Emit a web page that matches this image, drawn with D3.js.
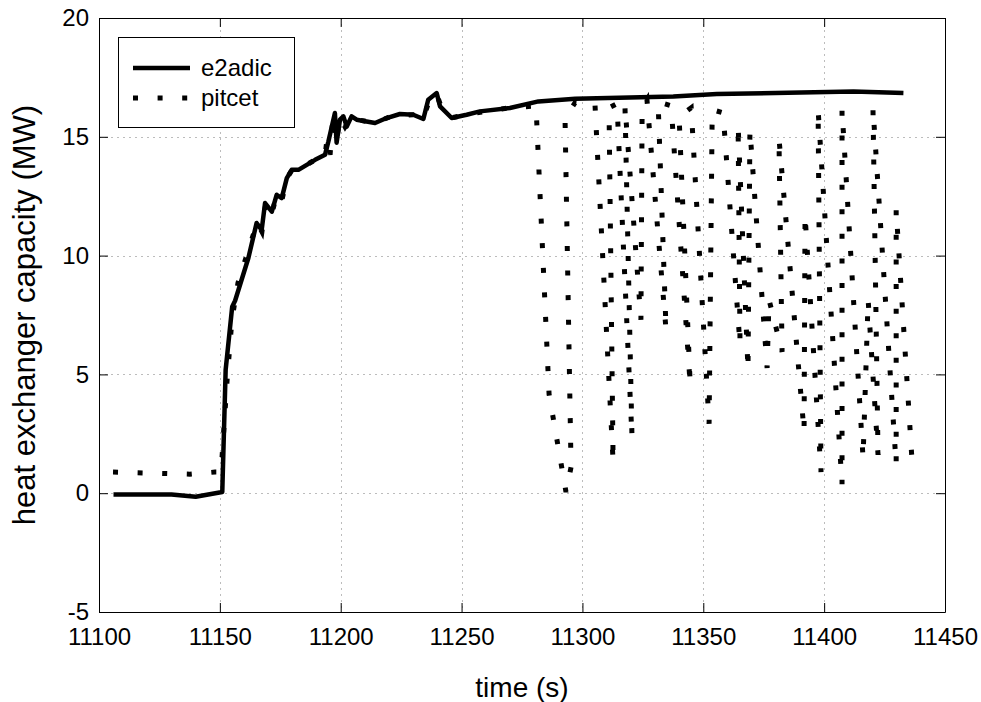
<!DOCTYPE html>
<html>
<head>
<meta charset="utf-8">
<script src="https://cdn.jsdelivr.net/npm/d3@7"></script>
<style>
  body { margin: 0; background: #fff; }
  text { font-family: "Liberation Sans", Arial, Helvetica, sans-serif; fill: #000; }
</style>
</head>
<body>
<div id="chart"></div>
<script>
// e2adic (solid line)
var e2adicTime = [11106, 11120, 11130, 11140, 11151, 11152.4, 11155.1, 11156.3, 11161.8, 11165.2,
  11167.3, 11168.7, 11171.5, 11173.5, 11175.6, 11177.7, 11179.7, 11182.5, 11189.4, 11193.5,
  11194.9, 11197.6, 11198.3, 11199.7, 11201.1, 11202.5, 11204.5, 11206.6, 11214.2, 11219.0,
  11224.5, 11230.0, 11234.2, 11236.2, 11239.7, 11241.1, 11245.9, 11252.1, 11257.6, 11270,
  11281.8, 11297, 11337.6, 11355.6, 11412.1, 11432.8];
var e2adicValue = [-0.05, -0.05, -0.05, -0.15, 0.05, 5.2, 7.85, 8.1, 9.9, 11.37,
  11.08, 12.21, 11.85, 12.56, 12.42, 13.26, 13.61, 13.61, 14.03, 14.24,
  14.8, 16.0, 14.75, 15.72, 15.86, 15.43, 15.86, 15.72, 15.58, 15.79,
  15.96, 15.93, 15.75, 16.56, 16.84, 16.28, 15.79, 15.93, 16.07, 16.21,
  16.49, 16.6, 16.7, 16.8, 16.91, 16.84];

// pitcet (dotted line)
var pitcetTime = [11105.8, 11137.6, 11148.0, 11150.5, 11153.0, 11155.0, 11157.5, 11162.5, 11165.4, 11167.4,
  11169.1, 11171.6, 11173.6, 11175.7, 11177.8, 11179.9, 11182.3, 11189.4, 11193.5, 11194.3,
  11195.6, 11196.8, 11198.1, 11199.7, 11201.8, 11204.7, 11206.7, 11214.2, 11220.4, 11229.9,
  11234.1, 11236.9, 11239.8, 11241.5, 11246.0, 11253.5, 11270.0, 11280.8, 11286.2, 11293.2,
  11295.3, 11292.8, 11296.9, 11305.2, 11312.7, 11311.0, 11314.3, 11320.5, 11317.6, 11324.2,
  11324.7, 11326.7, 11334.6, 11331.3, 11336.7, 11344.6, 11340.0, 11345.0, 11352.4, 11353.7,
  11358.2, 11365.2, 11364.4, 11368.5, 11369.3, 11376.4, 11377.2, 11382.6, 11381.3, 11391.7,
  11392.1, 11398.7, 11397.5, 11407.4, 11407.4, 11416.1, 11418.2, 11422.3, 11420.2, 11429.8,
  11429.8, 11436.4];
var pitcetValue = [0.89, 0.80, 0.89, 0.89, 4.77, 7.30, 8.85, 10.45, 11.38, 11.0,
  12.26, 11.80, 12.60, 12.35, 13.27, 13.61, 13.61, 14.03, 14.20, 14.87,
  14.24, 15.84, 14.75, 15.80, 15.42, 15.88, 15.72, 15.59, 15.84, 15.93,
  15.76, 16.6, 16.77, 16.27, 15.8, 15.97, 16.22, 16.30, 4.17, 0.05,
  1.10, 15.80, 16.43, 16.35, 1.31, 16.22, 16.39, 2.36, 16.31, 7.30,
  16.22, 16.56, 6.87, 16.47, 16.31, 4.55, 15.84, 16.22, 2.92, 16.14,
  16.01, 6.24, 15.5, 5.19, 15.29, 5.27, 8.14, 5.95, 14.96, 2.58,
  11.71, 0.89, 16.14, 0.38, 16.14, 1.48, 8.14, 1.61, 16.22, 1.19,
  11.93, 1.31];

var xTicks = [11100, 11150, 11200, 11250, 11300, 11350, 11400, 11450];
var yTicks = [-5, 0, 5, 10, 15, 20];
var seriesNames = ["e2adic", "pitcet"];

var width = 981, height = 702;
var plotLeft = 99, plotRight = 945, plotTop = 18, plotBottom = 612;
var dotDash = "5,19.6";

var svg = d3.select("#chart").append("svg")
  .attr("width", width)
  .attr("height", height);

var x = d3.scaleLinear().domain([11100, 11450]).range([plotLeft, plotRight]);
var y = d3.scaleLinear().domain([-5, 20]).range([plotBottom, plotTop]);

// grid
svg.append("g").selectAll("line")
  .data(xTicks.slice(1, -1))
  .enter().append("line")
  .attr("x1", d => Math.round(x(d)) + 0.5).attr("x2", d => Math.round(x(d)) + 0.5)
  .attr("y1", plotTop).attr("y2", plotBottom)
  .style("stroke", "#bcbcbc").style("stroke-dasharray", "2,4");
svg.append("g").selectAll("line")
  .data(yTicks.slice(1, -1))
  .enter().append("line")
  .attr("y1", d => Math.round(y(d)) + 0.5).attr("y2", d => Math.round(y(d)) + 0.5)
  .attr("x1", plotLeft).attr("x2", plotRight)
  .style("stroke", "#bcbcbc").style("stroke-dasharray", "2,4");

// axes, ticks pointing inwards on all four sides
svg.append("g")
  .attr("transform", "translate(0," + plotBottom + ")")
  .call(d3.axisBottom(x).tickValues(xTicks).tickFormat(d3.format("d")).tickSizeInner(-9).tickSizeOuter(0).tickPadding(16));
svg.append("g")
  .attr("transform", "translate(" + plotLeft + ",0)")
  .call(d3.axisLeft(y).tickValues(yTicks).tickFormat(d => d < 0 ? "-" + Math.abs(d) : d).tickSizeInner(-9).tickSizeOuter(0).tickPadding(10));
svg.append("g")
  .attr("transform", "translate(0," + plotTop + ")")
  .call(d3.axisTop(x).tickValues(xTicks).tickFormat("").tickSizeInner(-9).tickSizeOuter(0));
svg.append("g")
  .attr("transform", "translate(" + plotRight + ",0)")
  .call(d3.axisRight(y).tickValues(yTicks).tickFormat("").tickSizeInner(-9).tickSizeOuter(0));

svg.selectAll(".domain").style("stroke", "#000");
svg.selectAll(".tick line").style("stroke", "#000");
svg.selectAll(".tick text")
  .style("font-size", "24px")
  .style("font-family", "'Liberation Sans', Arial, Helvetica, sans-serif");

// data lines
var e2adicData = e2adicTime.map((t, i) => [t, e2adicValue[i]]);
var pitcetData = pitcetTime.map((t, i) => [t, pitcetValue[i]]);
var line = d3.line().x(d => x(d[0])).y(d => y(d[1]));

svg.append("path")
  .datum(pitcetData)
  .attr("d", line)
  .style("fill", "none")
  .style("stroke", "#000")
  .style("stroke-width", 5)
  .style("stroke-dasharray", dotDash);

svg.append("path")
  .datum(e2adicData)
  .attr("d", line)
  .style("fill", "none")
  .style("stroke", "#000")
  .style("stroke-width", 4.5)
  .style("stroke-linejoin", "round");

// axis labels
svg.append("text")
  .attr("x", (plotLeft + plotRight) / 2)
  .attr("y", 697)
  .attr("text-anchor", "middle")
  .style("font-size", "28px")
  .text("time (s)");
svg.append("text")
  .attr("transform", "translate(35," + (plotTop + plotBottom) / 2 + ") rotate(-90)")
  .attr("text-anchor", "middle")
  .style("font-size", "31px")
  .text("heat exchanger capacity (MW)");

// legend
var legend = svg.append("g");
legend.append("rect")
  .attr("x", 118.5).attr("y", 37.5)
  .attr("width", 176).attr("height", 90)
  .style("fill", "#fff").style("stroke", "#000");
legend.append("line")
  .attr("x1", 133).attr("x2", 190).attr("y1", 68).attr("y2", 68)
  .style("stroke", "#000").style("stroke-width", 4.5);
legend.append("line")
  .attr("x1", 133).attr("x2", 190).attr("y1", 98).attr("y2", 98)
  .style("stroke", "#000").style("stroke-width", 5).style("stroke-dasharray", dotDash);
legend.selectAll("text")
  .data(seriesNames)
  .enter().append("text")
  .attr("x", 201)
  .attr("y", (d, i) => 76 + i * 30)
  .style("font-size", "24px")
  .text(d => d);
</script>
</body>
</html>
